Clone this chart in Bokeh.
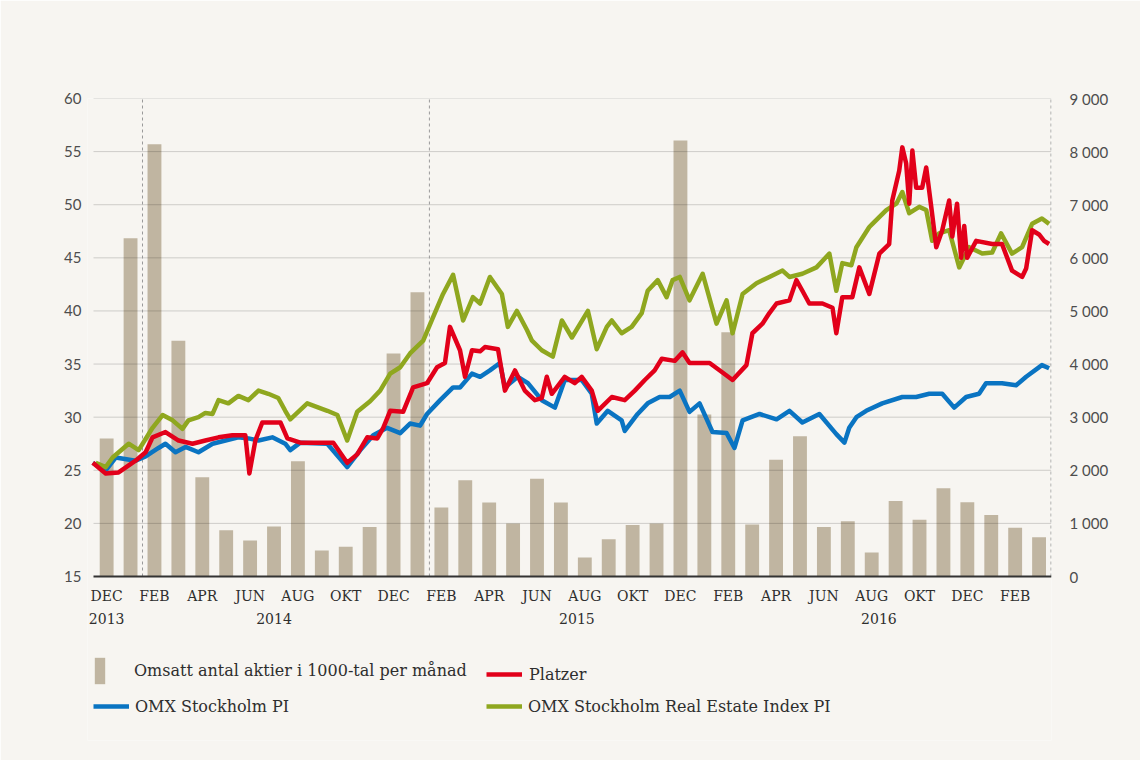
from bokeh.plotting import figure
from bokeh.models import Range1d, LinearAxis, FixedTicker, Legend, LegendItem
from bokeh.core.properties import value
from bokeh.embed import file_html
from bokeh.resources import INLINE

# ---------------- data ----------------
# monthly traded volume (thousands of shares), Dec 2013 .. Mar 2017
bar_months = list(range(40))
volume = [2600, 6370, 8140, 4440, 1870, 870, 680, 940, 2170, 490, 560, 930,
          4200, 5350, 1300, 1810, 1395, 1000, 1840, 1395, 360, 700, 970, 1000,
          8210, 3050, 4600, 980, 2200, 2640, 930, 1040, 450, 1420, 1070, 1660,
          1400, 1160, 920, 740]

month_ticks = list(range(0, 40, 2))
month_labels = ["DEC", "FEB", "APR", "JUN", "AUG", "OKT", "DEC", "FEB", "APR", "JUN",
                "AUG", "OKT", "DEC", "FEB", "APR", "JUN", "AUG", "OKT", "DEC", "FEB"]
year_labels = ["2013", "2014", "2015", "2016"]
year_pos = [0, 7.0, 19.67, 32.3]

left_ticks = [15, 20, 25, 30, 35, 40, 45, 50, 55, 60]
right_ticks = [0, 1000, 2000, 3000, 4000, 5000, 6000, 7000, 8000, 9000]
right_labels = ["0", "1 000", "2 000", "3 000", "4 000", "5 000", "6 000", "7 000", "8 000", "9 000"]

# time in months since mid Dec 2013
platzer_t = [-0.58, -0.04, 0.50, 1.21, 1.63, 1.92, 2.46, 3.01, 3.59, 4.13, 4.68, 5.26, 5.80, 5.97,
             6.22, 6.51, 7.27, 7.56, 8.10, 9.48, 10.06, 10.48, 10.90, 11.32, 11.57, 11.86, 12.40,
             12.82, 13.40, 13.82, 14.15, 14.36, 14.78, 14.99, 15.28, 15.62, 15.82, 16.37, 16.66,
             17.08, 17.49, 17.91, 18.20, 18.41, 18.62, 19.16, 19.58, 19.87, 20.29, 20.54, 21.13,
             21.67, 22.09, 22.51, 22.92, 23.22, 23.76, 24.09, 24.38, 25.22, 25.76, 26.18, 26.76,
             27.01, 27.43, 27.72, 28.02, 28.56, 28.85, 29.10, 29.39, 29.94, 30.36, 30.52, 30.77,
             31.19, 31.48, 31.90, 32.32, 32.73, 32.86, 33.15, 33.28, 33.44, 33.57, 33.70, 33.86,
             34.11, 34.28, 34.49, 34.70, 34.95, 35.24, 35.37, 35.57, 35.74, 35.87, 35.99, 36.37,
             37.04, 37.45, 37.87, 38.29, 38.46, 38.71, 39.00, 39.21, 39.42]
platzer = [25.7, 24.7, 24.8, 25.9, 26.7, 28.1, 28.6, 27.8, 27.5, 27.8, 28.1, 28.3, 28.3, 24.7,
           27.8, 29.5, 29.5, 28.0, 27.6, 27.6, 25.7, 26.5, 28.1, 28.0, 29.0, 30.6, 30.5,
           32.8, 33.2, 34.7, 35.1, 38.5, 36.3, 33.8, 36.3, 36.2, 36.6, 36.4, 32.5,
           34.4, 32.5, 31.6, 31.8, 33.8, 32.2, 33.8, 33.2, 33.8, 32.5, 30.6, 31.9,
           31.6, 32.5, 33.5, 34.4, 35.5, 35.3, 36.1, 35.1, 35.1, 34.2, 33.5, 34.9,
           37.9, 38.8, 39.8, 40.7, 41.0, 42.9, 41.9, 40.7, 40.7, 40.3, 37.9, 41.3,
           41.3, 44.1, 41.6, 45.4, 46.3, 50.4, 53.2, 55.4, 53.9, 50.1, 55.1, 51.6,
           51.6, 53.5, 49.8, 46.0, 47.6, 50.4, 47.0, 50.1, 45.0, 48.0, 45.0, 46.6,
           46.3, 46.3, 43.8, 43.2, 44.0, 47.6, 47.2, 46.6, 46.3]

omx_t = [-0.58, -0.04, 0.38, 1.21, 1.63, 2.17, 2.46, 2.88, 3.30, 3.84, 4.43, 4.97, 5.51, 5.93,
         6.35, 6.93, 7.47, 7.68, 8.10, 9.23, 10.06, 10.61, 11.15, 11.73, 12.28, 12.69, 13.11,
         13.40, 13.95, 14.49, 14.78, 15.28, 15.62, 16.03, 16.45, 16.66, 17.20, 17.62, 18.20,
         18.75, 19.16, 19.87, 20.29, 20.50, 20.96, 21.54, 21.67, 22.21, 22.63, 23.13, 23.55,
         23.97, 24.38, 24.80, 25.34, 25.93, 26.26, 26.60, 27.31, 28.02, 28.56, 29.10, 29.81,
         30.52, 30.86, 31.06, 31.36, 31.77, 32.44, 33.28, 33.86, 34.41, 34.95, 35.45, 35.95,
         36.49, 36.78, 37.45, 38.04, 38.46, 39.12, 39.42]
omx = [25.7, 25.0, 26.2, 25.9, 26.3, 27.1, 27.5, 26.7, 27.2, 26.7, 27.5, 27.8, 28.1, 28.0,
       27.8, 28.1, 27.5, 26.9, 27.6, 27.5, 25.3, 26.9, 28.3, 29.0, 28.5, 29.4, 29.2,
       30.3, 31.6, 32.8, 32.8, 34.1, 33.8, 34.4, 35.1, 32.8, 33.8, 33.2, 31.6,
       30.9, 33.5, 33.5, 32.2, 29.4, 30.6, 29.7, 28.7, 30.3, 31.3, 31.9, 31.9,
       32.5, 30.5, 31.3, 28.6, 28.5, 27.1, 29.7, 30.3, 29.8, 30.6, 29.5, 30.3,
       28.4, 27.6, 29.0, 30.0, 30.6, 31.3, 31.9, 31.9, 32.2, 32.2, 30.9, 31.9,
       32.2, 33.2, 33.2, 33.0, 33.8, 34.9, 34.6]

re_t = [-0.46, -0.04, 0.25, 0.92, 1.34, 1.92, 2.34, 2.76, 3.17, 3.42, 3.84, 4.13, 4.43, 4.68,
        5.09, 5.51, 5.93, 6.35, 6.76, 7.18, 7.47, 7.68, 8.39, 9.23, 9.65, 10.06, 10.48, 11.02,
        11.44, 11.86, 12.28, 12.69, 13.24, 13.65, 14.07, 14.49, 14.91, 15.32, 15.62, 16.03,
        16.53, 16.78, 17.16, 17.58, 17.79, 18.20, 18.66, 19.04, 19.46, 20.13, 20.50, 20.92,
        21.13, 21.54, 21.96, 22.38, 22.63, 23.05, 23.42, 23.67, 23.97, 24.38, 24.93, 25.51,
        25.93, 26.18, 26.60, 27.18, 27.72, 28.27, 28.56, 29.10, 29.69, 30.23, 30.52, 30.77,
        31.15, 31.36, 31.90, 32.03, 32.61, 33.03, 33.28, 33.57, 33.99, 34.28, 34.53, 34.82,
        35.24, 35.66, 36.08, 36.62, 37.04, 37.41, 37.87, 38.29, 38.71, 39.12, 39.42]
real_estate = [25.7, 25.3, 26.2, 27.5, 26.9, 29.0, 30.2, 29.7, 28.9, 29.7, 30.0, 30.4, 30.3, 31.6,
               31.3, 32.0, 31.6, 32.5, 32.2, 31.8, 30.6, 29.8, 31.3, 30.6, 30.2, 27.8, 30.5, 31.5,
               32.5, 34.1, 34.7, 36.0, 37.2, 39.4, 41.6, 43.4, 39.1, 41.3, 40.7, 43.2,
               41.6, 38.5, 40.0, 38.2, 37.2, 36.3, 35.7, 39.1, 37.5, 40.0, 36.4, 38.5,
               39.1, 37.9, 38.5, 39.8, 41.9, 42.9, 41.3, 42.9, 43.2, 41.0, 43.5, 38.8,
               41.0, 37.9, 41.6, 42.6, 43.2, 43.8, 43.2, 43.5, 44.1, 45.4, 41.9, 44.5,
               44.3, 46.0, 47.9, 48.2, 49.5, 50.1, 51.2, 49.2, 49.8, 49.5, 46.6, 47.3,
               47.6, 44.1, 46.0, 45.4, 45.5, 47.3, 45.4, 46.0, 48.2, 48.7, 48.2]

names = ["Omsatt antal aktier i 1000-tal per månad", "Platzer",
         "OMX Stockholm PI", "OMX Stockholm Real Estate Index PI"]

# ---------------- layout / style ----------------
BG = "#f7f5f1"
BAR = "#c0b5a1"
RED = "#e2001a"
BLUE = "#0a74c2"
GREEN = "#8fa71f"
NUM_FONT = "Lato"
SERIF = "DejaVu Serif"

W, H = 1140, 760
TOP, RIGHT, BOTTOM = 98, 89, 20
FRAME_LEFT = 87            # frame starts a little left of the chart so labels are not clipped
CHART_LEFT = 93            # pixel column where the chart (grid) starts
AXIS_PX = 576              # pixel row of the value 15 / 0
X0, X1 = -0.55, 39.52      # chart x extent (months)
ppu_x = (W - RIGHT - CHART_LEFT) / (X1 - X0)
x_lo = X0 - (CHART_LEFT - FRAME_LEFT) / ppu_x
PX_PER_UNIT = (AXIS_PX - TOP) / 45.0
frame_bottom = H - BOTTOM
y_lo = 15 - (frame_bottom - AXIS_PX) / PX_PER_UNIT
v_lo = (y_lo - 15) * 200


def y_at(px):
    return 15 - (px - AXIS_PX) / PX_PER_UNIT


p = figure(width=W, height=H, output_backend="svg", toolbar_location=None,
           x_range=Range1d(x_lo, X1), y_range=Range1d(y_lo, 60),
           min_border_left=FRAME_LEFT, min_border_right=RIGHT, min_border_top=TOP,
           min_border_bottom=BOTTOM,
           background_fill_color=BG, border_fill_color=BG, outline_line_color=None)
p.extra_y_ranges = {"vol": Range1d(v_lo, 9000)}
p.xgrid.visible = False
p.ygrid.visible = False
p.xaxis.visible = False

# bars
bar_r = p.vbar(x=bar_months, top=volume, bottom=0, width=0.58, y_range_name="vol",
               fill_color=BAR, line_color=None)

# grid lines drawn over bars
grid_y = left_ticks[1:]
p.segment(x0=[X0] * len(grid_y), x1=[X1] * len(grid_y), y0=grid_y, y1=grid_y,
          line_color="black", line_alpha=0.17, line_width=1)
p.segment(x0=[1.5, 13.5, 39.5], x1=[1.5, 13.5, 39.5], y0=15, y1=60,
          line_color="#9a9a9a", line_width=1, line_dash="3 3")

blue_r = p.line(omx_t, omx, line_color=BLUE, line_width=4.5, line_join="round")
green_r = p.line(re_t, real_estate, line_color=GREEN, line_width=4.5, line_join="round")
red_r = p.line(platzer_t, platzer, line_color=RED, line_width=4.5, line_join="round")

# base line of the chart
p.segment(x0=[X0], x1=[X1], y0=[15], y1=[15], line_color="#333333", line_width=2)

# month and year labels under the base line
p.text(x=month_ticks, y=y_at(595), text=month_labels, text_align="center",
       text_baseline="middle", text_font=value(SERIF), text_font_size="14px", text_color="#2e2e2e")
p.text(x=year_pos, y=y_at(618), text=year_labels, text_align="center",
       text_baseline="middle", text_font=value(SERIF), text_font_size="14px", text_color="#2e2e2e")

# left axis
ya = p.yaxis[0]
ya.ticker = FixedTicker(ticks=left_ticks)
ya.axis_line_color = None
ya.major_tick_line_color = None
ya.minor_tick_line_color = None
ya.major_label_standoff = 0
ya.major_label_text_font = NUM_FONT
ya.major_label_text_font_size = "15px"
ya.major_label_text_color = "#4d4d4d"

# right axis
ra = LinearAxis(y_range_name="vol", ticker=FixedTicker(ticks=right_ticks),
                major_label_overrides=dict(zip(right_ticks, right_labels)))
ra.axis_line_color = None
ra.major_tick_line_color = None
ra.minor_tick_line_color = None
ra.major_label_standoff = 12
ra.major_label_text_font = NUM_FONT
ra.major_label_text_font_size = "15px"
ra.major_label_text_color = "#4d4d4d"
p.add_layout(ra, "right")

common = dict(margin=0, padding=0, border_line_color=None, background_fill_alpha=0,
              label_text_font=SERIF, label_text_font_size="16px", label_text_color="#2e2e2e")

leg_bar = Legend(items=[LegendItem(label=names[0], renderers=[bar_r])],
                 location=(CHART_LEFT - FRAME_LEFT, frame_bottom - 687),
                 glyph_width=13, glyph_height=33, label_standoff=28, **common)
leg_red = Legend(items=[LegendItem(label=names[1], renderers=[red_r])],
                 location=(486 - FRAME_LEFT, frame_bottom - 684),
                 glyph_width=36, glyph_height=20, label_standoff=7, **common)
leg_idx = Legend(items=[LegendItem(label=names[2], renderers=[blue_r]),
                        LegendItem(label=names[3], renderers=[green_r])],
                 orientation="horizontal", spacing=5, label_width=346,
                 location=(CHART_LEFT - FRAME_LEFT, frame_bottom - 716),
                 glyph_width=36, glyph_height=20, label_standoff=6, **common)
for lg in (leg_bar, leg_red, leg_idx):
    p.add_layout(lg, "center")

html = file_html(p, INLINE)
html = html.replace("<body>", '<body style="background:#efece6">', 1)
open("out.html", "w").write(html)
